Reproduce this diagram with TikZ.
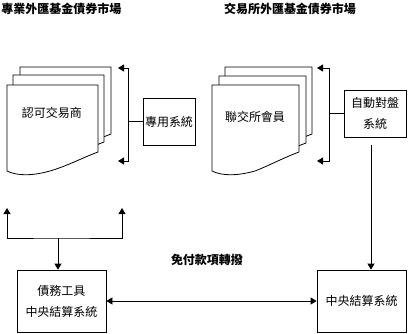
\documentclass[tikz,border=0pt]{standalone}
\usepackage{fontspec}
\setmainfont{Noto Sans CJK TC}
\usetikzlibrary{arrows.meta}

% one sheet of the stacked "document" shape: left x, top y, width
\newcommand{\docsheet}[3]{%
  \filldraw[sheet] (#1,#2+86) -- (#1,#2) -- (#1+#3,#2) -- (#1+#3,#2+67)
    .. controls (#1+#3-16,#2+73) and (#1+#3-31,#2+81) .. (#1+43,#2+86)
    .. controls (#1+25,#2+91) and (#1+10,#2+91) .. cycle;}

\begin{document}
\begin{tikzpicture}[
  x=1pt, y=-1pt,
  font=\fontsize{12}{21}\selectfont,
  every node/.style={align=center, inner sep=1pt},
  title/.style={font=\fontsize{12}{14}\selectfont\bfseries},
  sysbox/.style={rectangle, draw=black, line width=0.8pt, fill=white},
  sheet/.style={draw=black, line width=0.8pt, fill=white},
  link/.style={draw=black, line width=0.8pt},
  arr/.style={link, -{Triangle[length=6pt, width=7pt]}},
  both/.style={link, {Triangle[length=6pt, width=7pt]}-{Triangle[length=6pt, width=7pt]}}
]
  \useasboundingbox (0,0) rectangle (408,333);

  % market titles
  \node[title] (otc) at (61.5,9) {專業外匯基金債券市場};
  \node[title] (exch) at (290,9) {交易所外匯基金債券市場};

  % stacked participants
  \docsheet{20}{67}{91}
  \docsheet{13}{75}{91}
  \docsheet{7}{85}{91}
  \node (dealers) at (52,113) {認可交易商};

  \docsheet{225}{67}{87}
  \docsheet{219}{76}{87}
  \docsheet{212}{85}{87}
  \node (members) at (255,117) {聯交所會員};

  % trading and settlement systems
  \node[sysbox, minimum width=52pt, minimum height=47pt] (dedicated) at (169,121.5) {專用系統};
  \node[sysbox, minimum width=62pt, minimum height=47pt] (automatch) at (375,113.5) {自動對盤\\系統};
  \node[sysbox, minimum width=89pt, minimum height=62pt] (cmu) at (61.5,301) {債務工具\\中央結算系統};
  \node[sysbox, minimum width=89pt, minimum height=62pt] (ccass) at (361.5,301) {中央結算系統};
  \node[title] (fop) at (207,260) {免付款項轉撥};

  % brackets
  \coordinate (lspine) at (128,68);
  \coordinate (ltip1) at (118,68);
  \coordinate (ltip2) at (118,161);
  \draw[both] (ltip1) -- (lspine) |- (ltip2);
  \draw[link] (dedicated.west) -- (dedicated.west -| lspine);

  \coordinate (rspine) at (329,68);
  \coordinate (rtip1) at (317,68);
  \coordinate (rtip2) at (317,161);
  \draw[both] (rtip1) -- (rspine) |- (rtip2);
  \draw[link] (automatch.west) -- (automatch.west -| rspine);

  \coordinate (utip1) at (7,208);
  \coordinate (utip2) at (122,208);
  \coordinate (ujoin) at (58,238);
  \draw[both] (utip1) |- (ujoin) -| (utip2);
  \draw[arr] (ujoin) -- (ujoin |- cmu.north);

  \coordinate (drop) at (371,145);
  \draw[arr] (drop) -- (drop |- ccass.north);

  \draw[both] (cmu.east) -- (ccass.west);
\end{tikzpicture}
\end{document}
